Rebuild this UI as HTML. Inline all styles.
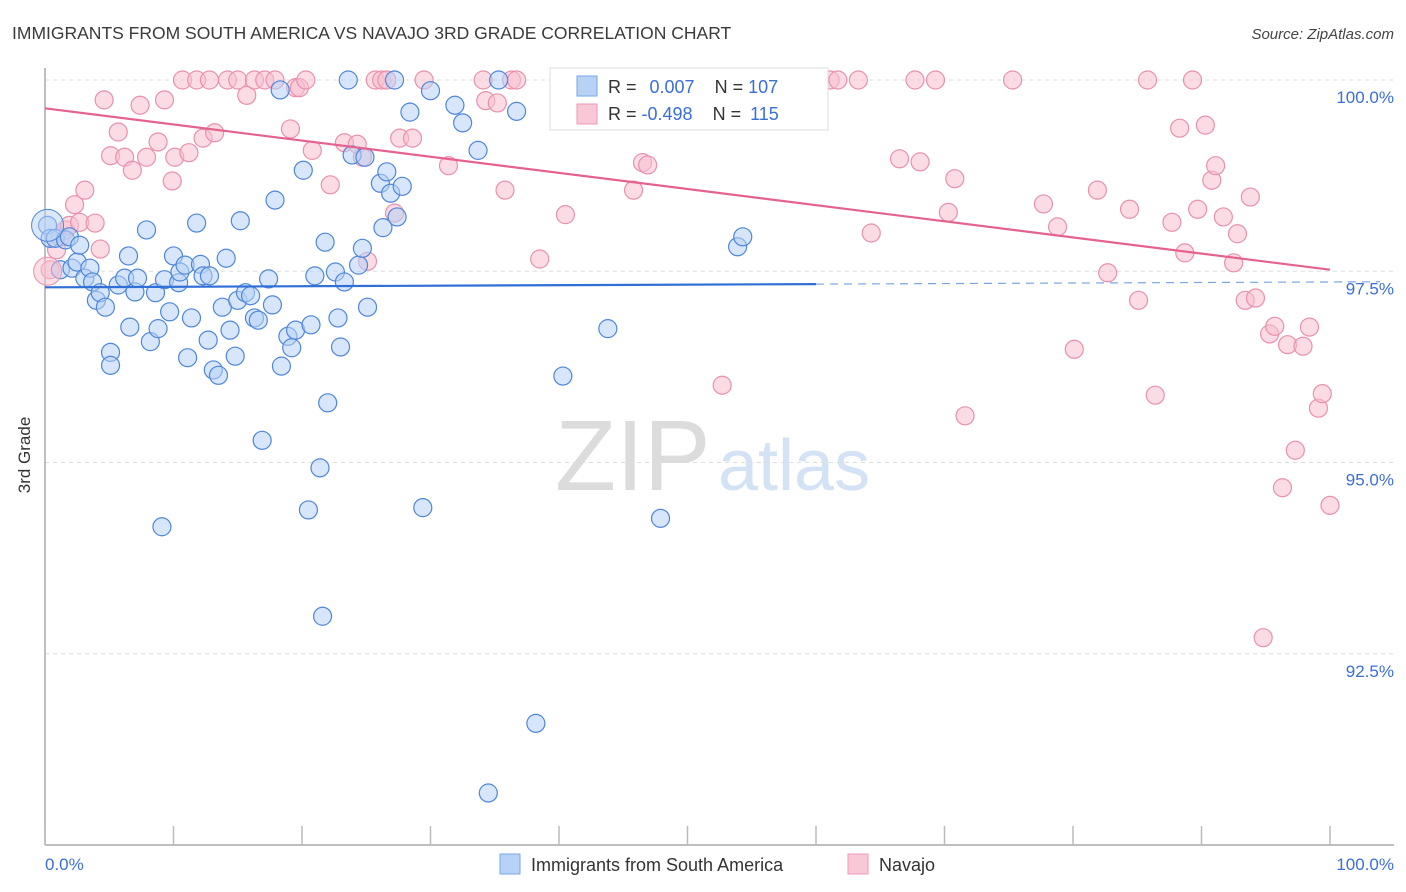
<!DOCTYPE html>
<html><head><meta charset="utf-8">
<style>
body{margin:0;background:#fff;font-family:"Liberation Sans",sans-serif;}
#wrap{position:relative;width:1406px;height:892px;overflow:hidden;}
svg text{font-family:"Liberation Sans",sans-serif;}
</style></head>
<body>
<div id="wrap">
<svg id="chart" width="1406" height="892">
<text x="12" y="39" font-size="17.5" fill="#3a3a3a">IMMIGRANTS FROM SOUTH AMERICA VS NAVAJO 3RD GRADE CORRELATION CHART</text>
<text x="1394" y="39" font-size="15" fill="#444" font-style="italic" text-anchor="end">Source: ZipAtlas.com</text>
<g>
<text x="555" y="490" font-size="100" fill="#dcdcdc" font-family="Liberation Serif, serif">ZIP</text>
<text x="718" y="490" font-size="72" fill="#d3e2f5">atlas</text>
</g>
<g id="grid"></g>
<g id="axes"></g>
<g id="pts"></g>
<g id="trend"></g>
<text x="30" y="455" font-size="17" fill="#333" text-anchor="middle" transform="rotate(-90 30 455)">3rd Grade</text>
<text x="45" y="870" font-size="17" fill="#3a6fd8">0.0%</text>
<text x="1394" y="870" font-size="17" fill="#3a6fd8" text-anchor="end">100.0%</text>
<g>
<rect x="550" y="68" width="278" height="62" fill="#fff" stroke="#ddd"/>
<rect x="577" y="76" width="20" height="20" fill="#b7d2f5" stroke="#7aa6e6"/>
<rect x="577" y="104" width="20" height="20" fill="#f9c8d6" stroke="#ee9ab4"/>
<text x="608" y="93" font-size="18" fill="#333">R = <tspan fill="#3a6fd8" dx="8">0.007</tspan><tspan dx="20">N = </tspan><tspan fill="#3a6fd8">107</tspan></text>
<text x="608" y="120" font-size="18" fill="#333">R = <tspan fill="#3a6fd8">-0.498</tspan><tspan dx="20">N = </tspan><tspan fill="#3a6fd8" dx="4">115</tspan></text>
</g>
<g>
<rect x="500" y="854" width="20" height="20" fill="#b7d2f5" stroke="#7aa6e6"/>
<text x="531" y="871" font-size="18" fill="#333">Immigrants from South America</text>
<rect x="848" y="854" width="20" height="20" fill="#f9c8d6" stroke="#ee9ab4"/>
<text x="879" y="871" font-size="18" fill="#333">Navajo</text>
</g>
</svg>
</div>
<script>
const yTicks=[100,97.5,95,92.5];
const yTickLabels=["100.0%","97.5%","95.0%","92.5%"];
const xTicks=[0,10,20,30,40,50,60,70,80,90,100];
const blueX=[0.2,0.4,0.8,1.2,1.6,1.9,2.1,2.5,2.7,3.1,3.5,3.7,4.0,4.3,4.7,5.1,5.1,5.7,6.2,6.5,6.6,7.0,7.2,7.9,8.2,8.6,8.8,9.1,9.3,9.7,10.0,10.4,10.5,10.9,11.1,11.4,11.8,12.1,12.3,12.7,12.8,13.1,13.5,13.8,14.1,14.4,14.8,15.0,15.2,15.6,16.0,16.3,16.6,16.9,17.4,17.7,17.9,18.3,18.4,18.9,19.2,19.5,20.1,20.5,20.7,21.0,21.4,21.6,21.8,22.0,22.6,22.8,23.0,23.3,23.6,23.9,24.4,24.7,24.9,25.1,26.1,26.3,26.6,26.9,27.2,27.4,27.8,28.4,29.4,30.0,31.9,32.5,33.7,34.5,35.3,36.7,38.2,40.3,43.8,47.9,53.9,54.3];
const blueY=[98.10,97.93,97.93,97.52,97.91,97.95,97.54,97.62,97.84,97.41,97.54,97.36,97.12,97.22,97.03,96.44,96.27,97.32,97.41,97.70,96.77,97.23,97.41,98.04,96.58,97.22,96.75,94.16,97.39,96.97,97.70,97.35,97.49,97.58,96.37,96.89,98.13,97.59,97.44,96.60,97.44,96.21,96.14,97.03,97.67,96.73,96.39,97.12,98.16,97.22,97.18,96.89,96.86,95.29,97.40,97.06,98.43,99.87,96.26,96.65,96.50,96.73,98.82,94.38,96.80,97.44,94.93,92.99,97.88,95.78,97.49,96.89,96.51,97.36,100.0,99.02,97.58,97.80,98.99,97.03,98.65,98.07,98.80,98.52,100.0,98.21,98.61,99.58,94.41,99.86,99.67,99.44,99.08,90.68,100.0,99.59,91.59,96.13,96.75,94.27,97.82,97.95];
const pinkX=[0.4,0.9,1.2,1.6,1.9,2.3,2.7,3.1,3.9,4.3,4.6,5.1,5.7,6.2,6.8,7.4,7.9,8.8,9.3,9.9,10.1,10.7,11.2,11.8,12.3,12.8,13.2,14.2,15.0,15.7,16.3,17.1,17.9,19.1,19.5,19.8,20.3,20.8,22.2,23.3,24.3,24.7,25.1,25.7,26.2,26.6,27.2,27.6,28.6,29.5,31.4,34.1,34.3,35.2,35.8,36.3,36.7,38.5,40.2,40.5,41.2,41.8,42.4,43.0,43.8,44.7,45.8,46.5,46.9,47.5,52.7,58.8,61.1,61.7,63.3,64.3,66.5,67.7,68.1,69.3,70.3,70.8,71.6,75.3,77.7,78.8,80.1,81.9,82.7,84.4,85.1,85.8,86.4,87.7,88.3,88.7,89.3,89.7,90.3,90.8,91.1,91.7,92.5,92.8,93.4,93.8,94.2,94.8,95.3,95.7,96.3,96.7,97.3,97.9,98.4,99.1,99.4,100];
const pinkY=[97.52,97.78,97.95,98.04,98.10,98.37,98.14,98.56,98.13,97.79,99.74,99.01,99.32,98.99,98.82,99.67,98.99,99.19,99.74,98.68,98.99,100,99.05,100,99.24,100,99.31,100,100,99.80,100,100,100,99.36,99.90,99.90,100,99.08,98.63,99.18,99.16,98.99,97.63,100,100,100,98.26,99.24,99.24,100,98.88,100,99.73,99.70,98.56,100,100,97.66,100,98.24,100,100,100,100,100,100,98.56,98.92,98.89,100,96.01,100,100,100,100,98.00,98.97,100,98.93,100,98.27,98.71,95.61,100,98.38,98.08,96.48,98.56,97.48,98.31,97.12,100,95.88,98.14,99.37,97.74,100,98.31,99.41,98.69,98.88,98.21,97.61,97.99,97.12,98.47,97.15,92.71,96.68,96.78,94.67,96.54,95.16,96.52,96.77,95.71,95.90,94.44];
const blueTrend=[97.29,97.36];
const pinkTrend=[99.63,97.52];

const X0=45,X1=1330,Y100=80,PX_PER=76.5;
const sx=v=>X0+(X1-X0)*v/100;
const sy=v=>Y100+(100-v)*PX_PER;
const NS="http://www.w3.org/2000/svg";
function mk(tag,parent,attrs){const e=document.createElementNS(NS,tag);for(const k in attrs)e.setAttribute(k,attrs[k]);parent.appendChild(e);return e;}
const grid=document.getElementById('grid'),axes=document.getElementById('axes'),pts=document.getElementById('pts'),trend=document.getElementById('trend');
yTicks.forEach((t,i)=>{
  const l=mk('line',grid,{x1:X0,x2:1394,y1:sy(t),y2:sy(t),stroke:'#ddd','stroke-dasharray':'4,4'});
  
  
  const tx=mk('text',axes,{x:1394,y:sy(t)+23,'font-size':17,fill:'#3a6fd8','text-anchor':'end'});
  tx.textContent=yTickLabels[i];
  
  
});
const ya=mk('line',axes,{x1:X0,x2:X0,y1:68,y2:845,stroke:'#aaa','stroke-width':1.5});


const xa=mk('line',axes,{x1:X0,x2:1394,y1:845,y2:845,stroke:'#aaa','stroke-width':1.5});


xTicks.forEach(t=>{
  const l=mk('line',axes,{x1:sx(t),x2:sx(t),y1:826,y2:845,stroke:'#bbb','stroke-width':1.5});
  
  
});
function drawPts(xs,ys,fill,stroke,name){
  xs.forEach((x,i)=>{
    const c=mk('circle',pts,{cx:sx(x),cy:sy(ys[i]),r:9,fill:fill,stroke:stroke,'stroke-width':1.2,'fill-opacity':0.55});
    
    
  });
}
drawPts(pinkX,pinkY,'#f7bfd0','#e990ad','navajo-point');
drawPts(blueX,blueY,'#b7d2f5','#4f86da','immigrants-point');
const big1=mk('circle',pts,{cx:sx(0.2),cy:sy(98.1),r:16,fill:'#b7d2f5','fill-opacity':0.5,stroke:'#4f86da'});


const big2=mk('circle',pts,{cx:sx(0.2),cy:sy(97.5),r:14,fill:'#f7bfd0','fill-opacity':0.5,stroke:'#e990ad'});


const bt=v=>blueTrend[0]+(blueTrend[1]-blueTrend[0])*v/100;
const b1=mk('line',trend,{x1:sx(0),y1:sy(bt(0)),x2:sx(60),y2:sy(bt(60)),stroke:'#2f6fd6','stroke-width':2.2});


const b2=mk('line',trend,{x1:sx(60),y1:sy(bt(60)),x2:1380,y2:sy(bt(104)),stroke:'#7aa6e6','stroke-width':1.2,'stroke-dasharray':'8,6'});


const p1=mk('line',trend,{x1:sx(0),y1:sy(pinkTrend[0]),x2:sx(100),y2:sy(pinkTrend[1]),stroke:'#e5628f','stroke-width':2.2});


</script>
</body></html>
